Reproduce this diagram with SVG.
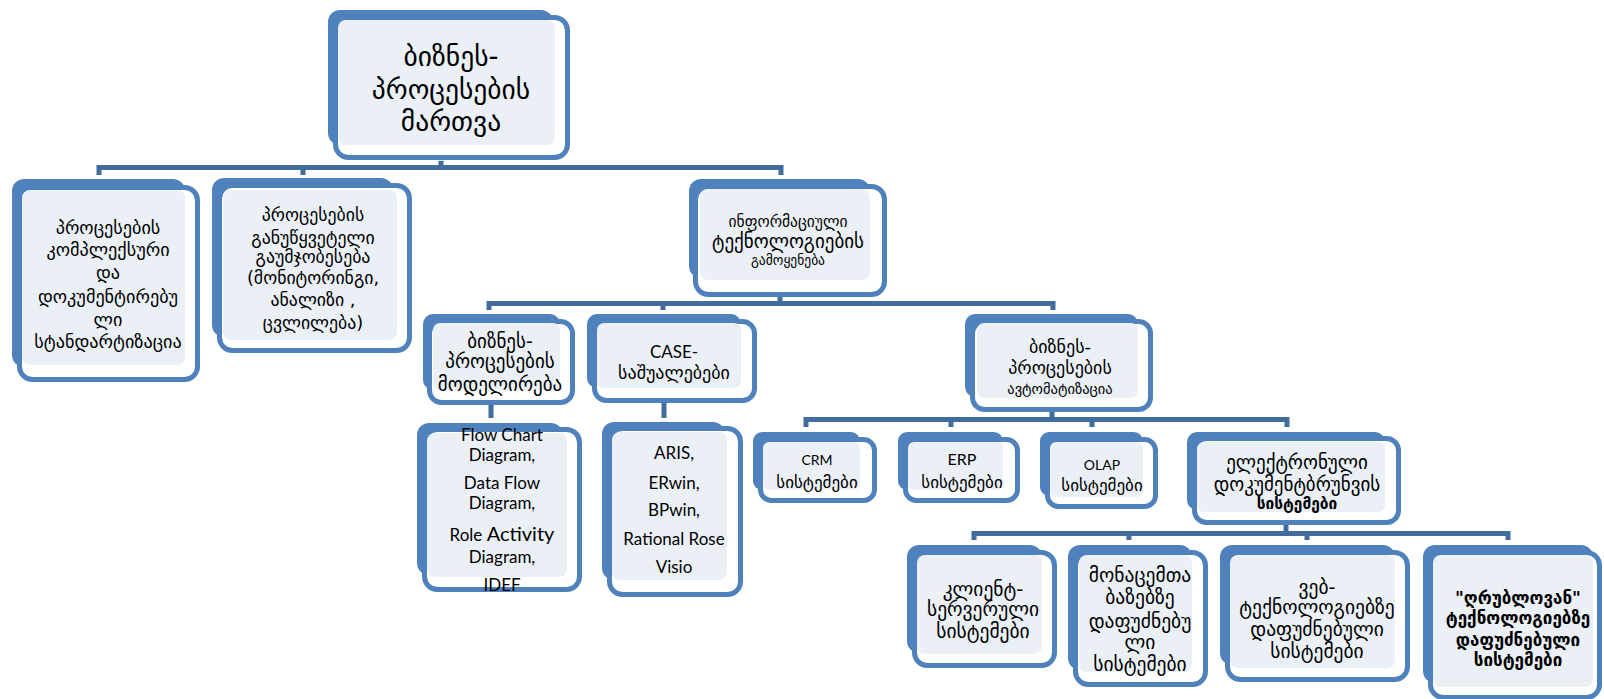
<svg xmlns="http://www.w3.org/2000/svg" width="1604" height="699" viewBox="0 0 1604 699">
  <style>
    .back { fill: #4f81bd; }
    .frame { fill: #ffffff; stroke: #4f81bd; stroke-width: 5; }
    .face { fill: #ebf0f7; }
    .wire { fill: none; stroke: #416c9e; stroke-width: 5; stroke-linejoin: miter; }
    .stub { fill: #dde5ef; }
    .ka { font-family: "DejaVu Sans", "Noto Sans", sans-serif; fill: #000; text-anchor: middle; }
    .la { font-family: "Lato", "Liberation Sans", sans-serif; fill: #000; text-anchor: middle; }
    .b { font-weight: bold; }
  </style>
  <rect width="1604" height="699" fill="#ffffff"/>

  <!-- connectors -->
  <g id="connectors">
    <rect class="stub" x="438" y="150" width="6" height="12"/>
    <path class="wire" d="M441,161 V167.5 M99,175 V167.5 H781 V175 M303,167.5 V175"/>
    <rect class="stub" x="777" y="285" width="6" height="12"/>
    <path class="wire" d="M780,296 V303.5 M489,310 V303.5 H1053 V310 M663,303.5 V310"/>
    <rect class="stub" x="488" y="397" width="6" height="8"/>
    <path class="wire" d="M491,404 V418"/>
    <rect class="stub" x="661" y="395" width="6" height="8"/>
    <path class="wire" d="M664,402 V418"/>
    <rect class="stub" x="1049" y="403" width="6" height="10"/>
    <path class="wire" d="M1052,412 V419.5 M806,427 V419.5 H1287 V427 M951,419.5 V427 M1092,419.5 V427"/>
    <rect class="stub" x="1283" y="515" width="6" height="10"/>
    <path class="wire" d="M1286,524 V533.5 M974,540 V533.5 H1508 V540 M1129,533.5 V540 M1307,533.5 V540"/>
  </g>

  <!-- root -->
  <g id="n-root">
    <rect class="back" x="328" y="10" width="225" height="135" rx="12"/>
    <rect class="frame" x="335.5" y="17.5" width="232" height="140" rx="13"/>
    <rect class="face" x="338" y="20" width="217" height="125" rx="8"/>
    <text class="ka" font-size="27.5"><tspan x="451" y="66">ბიზნეს-</tspan><tspan x="451" y="99">პროცესების</tspan><tspan x="451" y="131">მართვა</tspan></text>
  </g>

  <!-- level 1 -->
  <g id="n-standard">
    <rect class="back" x="12" y="179" width="173" height="188" rx="12"/>
    <rect class="frame" x="19.5" y="187.5" width="178" height="192" rx="13"/>
    <rect class="face" x="22" y="190" width="163" height="175" rx="8"/>
    <text class="ka" font-size="18.2"><tspan x="108" y="234">პროცესების</tspan><tspan x="108" y="256">კომპლექსური</tspan><tspan x="108" y="279">და</tspan><tspan x="108" y="303">დოკუმენტირებუ</tspan><tspan x="108" y="326">ლი</tspan><tspan x="108" y="348">სტანდარტიზაცია</tspan></text>
  </g>

  <g id="n-monitoring">
    <rect class="back" x="212" y="178" width="181" height="159" rx="12"/>
    <rect class="frame" x="219.5" y="185.5" width="190" height="165" rx="13"/>
    <rect class="face" x="223" y="190" width="174" height="150" rx="8"/>
    <text class="ka" font-size="17.8"><tspan x="313" y="221">პროცესების</tspan><tspan x="313" y="244">განუწყვეტელი</tspan><tspan x="313" y="263">გაუმჯობესება</tspan><tspan x="313" y="284">(მონიტორინგი,</tspan><tspan x="313" y="306">ანალიზი ,</tspan><tspan x="313" y="329">ცვლილება)</tspan></text>
  </g>

  <g id="n-it">
    <rect class="back" x="689" y="179" width="181" height="99" rx="12"/>
    <rect class="frame" x="695.5" y="186.5" width="189" height="108" rx="13"/>
    <rect class="face" x="700" y="189" width="170" height="91" rx="8"/>
    <text class="ka"><tspan x="788" y="227" font-size="15.5">ინფორმაციული</tspan><tspan x="788" y="248" font-size="19">ტექნოლოგიების</tspan><tspan x="788" y="265" font-size="13.5">გამოყენება</tspan></text>
  </g>

  <!-- level 2 -->
  <g id="n-modeling">
    <rect class="back" x="423" y="314" width="137" height="76" rx="10"/>
    <rect class="frame" x="429.5" y="321.5" width="143" height="81" rx="12"/>
    <rect class="face" x="433" y="323" width="127" height="67" rx="7"/>
    <text class="ka" font-size="19"><tspan x="500" y="348">ბიზნეს-</tspan><tspan x="500" y="368">პროცესების</tspan><tspan x="500" y="391">მოდელირება</tspan></text>
  </g>

  <g id="n-case">
    <rect class="back" x="587" y="314" width="154" height="74" rx="10"/>
    <rect class="frame" x="594.5" y="321.5" width="160" height="79" rx="12"/>
    <rect class="face" x="597" y="323" width="144" height="65" rx="7"/>
    <text class="la" font-size="17" x="674" y="358">CASE-</text>
    <text class="ka" font-size="18" x="674" y="379">საშუალებები</text>
  </g>

  <g id="n-automation">
    <rect class="back" x="965" y="314" width="173" height="83" rx="10"/>
    <rect class="frame" x="972.5" y="321.5" width="178" height="88" rx="12"/>
    <rect class="face" x="977" y="323" width="161" height="75" rx="7"/>
    <text class="ka"><tspan x="1060" y="353" font-size="18">ბიზნეს-</tspan><tspan x="1060" y="374" font-size="18">პროცესების</tspan><tspan x="1060" y="394" font-size="14.5">ავტომატიზაცია</tspan></text>
  </g>

  <!-- level 3 -->
  <g id="n-flow">
    <rect class="back" x="417" y="423" width="146" height="152" rx="12"/>
    <rect class="frame" x="424.5" y="429.5" width="155" height="160" rx="13"/>
    <rect class="face" x="427" y="433" width="140" height="144" rx="8"/>
    <text class="la" font-size="17"><tspan x="502" y="441">Flow Chart</tspan><tspan x="502" y="461">Diagram,</tspan><tspan x="502" y="489">Data Flow</tspan><tspan x="502" y="509">Diagram,</tspan><tspan x="502" y="541">Role <tspan font-size="20">Activity</tspan></tspan><tspan x="502" y="563">Diagram,</tspan><tspan x="502" y="591">IDEF</tspan></text>
  </g>

  <g id="n-tools">
    <rect class="back" x="602" y="422" width="123" height="158" rx="12"/>
    <rect class="frame" x="609.5" y="428.5" width="131" height="166" rx="13"/>
    <rect class="face" x="612" y="432" width="115" height="148" rx="8"/>
    <text class="la" font-size="17"><tspan x="674" y="459">ARIS,</tspan><tspan x="674" y="489">ERwin,</tspan><tspan x="674" y="516">BPwin,</tspan><tspan x="674" y="545">Rational Rose</tspan><tspan x="674" y="573">Visio</tspan></text>
  </g>

  <g id="n-crm">
    <rect class="back" x="753" y="432" width="107" height="58" rx="9"/>
    <rect class="frame" x="760.5" y="439.5" width="114" height="61" rx="11"/>
    <rect class="face" x="763" y="442" width="97" height="48" rx="6"/>
    <text class="la" font-size="14" x="817" y="465">CRM</text>
    <text class="ka" font-size="17" x="817" y="488">სისტემები</text>
  </g>

  <g id="n-erp">
    <rect class="back" x="898" y="432" width="105" height="58" rx="9"/>
    <rect class="frame" x="905.5" y="439.5" width="112" height="61" rx="11"/>
    <rect class="face" x="908" y="442" width="95" height="48" rx="6"/>
    <text class="la" font-size="16" x="962" y="465">ERP</text>
    <text class="ka" font-size="17" x="962" y="488">სისტემები</text>
  </g>

  <g id="n-olap">
    <rect class="back" x="1040" y="432" width="103" height="64" rx="9"/>
    <rect class="frame" x="1047.5" y="439.5" width="108" height="67" rx="11"/>
    <rect class="face" x="1050" y="442" width="93" height="55" rx="6"/>
    <text class="la" font-size="14" x="1102" y="470">OLAP</text>
    <text class="ka" font-size="17" x="1102" y="491">სისტემები</text>
  </g>

  <g id="n-edoc">
    <rect class="back" x="1187" y="432" width="198" height="78" rx="10"/>
    <rect class="frame" x="1194.5" y="438.5" width="204" height="84" rx="12"/>
    <rect class="face" x="1197" y="442" width="188" height="70" rx="7"/>
    <text class="ka"><tspan x="1297" y="469" font-size="19">ელექტრონული</tspan><tspan x="1297" y="491" font-size="19">დოკუმენტბრუნვის</tspan><tspan x="1297" y="509" font-size="15.5" class="b">სისტემები</tspan></text>
  </g>

  <!-- level 4 -->
  <g id="n-client">
    <rect class="back" x="907" y="545" width="135" height="108" rx="12"/>
    <rect class="frame" x="914.5" y="552.5" width="140" height="113" rx="13"/>
    <rect class="face" x="917" y="555" width="125" height="99" rx="8"/>
    <text class="ka" font-size="19.5"><tspan x="983" y="596">კლიენტ-</tspan><tspan x="983" y="616">სერვერული</tspan><tspan x="983" y="638">სისტემები</tspan></text>
  </g>

  <g id="n-db">
    <rect class="back" x="1068" y="545" width="124" height="125" rx="12"/>
    <rect class="frame" x="1075.5" y="552.5" width="130" height="132" rx="13"/>
    <rect class="face" x="1079" y="555" width="113" height="117" rx="8"/>
    <text class="ka" font-size="19.5"><tspan x="1140" y="582">მონაცემთა</tspan><tspan x="1140" y="604">ბაზებზე</tspan><tspan x="1140" y="628">დაფუძნებუ</tspan><tspan x="1140" y="649">ლი</tspan><tspan x="1140" y="671">სისტემები</tspan></text>
  </g>

  <g id="n-web">
    <rect class="back" x="1220" y="545" width="175" height="120" rx="12"/>
    <rect class="frame" x="1227.5" y="552.5" width="180" height="127" rx="13"/>
    <rect class="face" x="1230" y="555" width="165" height="113" rx="8"/>
    <text class="ka" font-size="19.5"><tspan x="1317" y="594">ვებ-</tspan><tspan x="1317" y="614">ტექნოლოგიებზე</tspan><tspan x="1317" y="636">დაფუძნებული</tspan><tspan x="1317" y="658">სისტემები</tspan></text>
  </g>

  <g id="n-cloud">
    <rect class="back" x="1423" y="545" width="170" height="138" rx="12"/>
    <rect class="frame" x="1430.5" y="552.5" width="169" height="145" rx="13"/>
    <rect class="face" x="1433" y="555" width="160" height="132" rx="8"/>
    <text class="ka b" font-size="17"><tspan x="1518" y="604">"ღრუბლოვან"</tspan><tspan x="1518" y="624">ტექნოლოგიებზე</tspan><tspan x="1518" y="646">დაფუძნებული</tspan><tspan x="1518" y="666">სისტემები</tspan></text>
  </g>
</svg>
